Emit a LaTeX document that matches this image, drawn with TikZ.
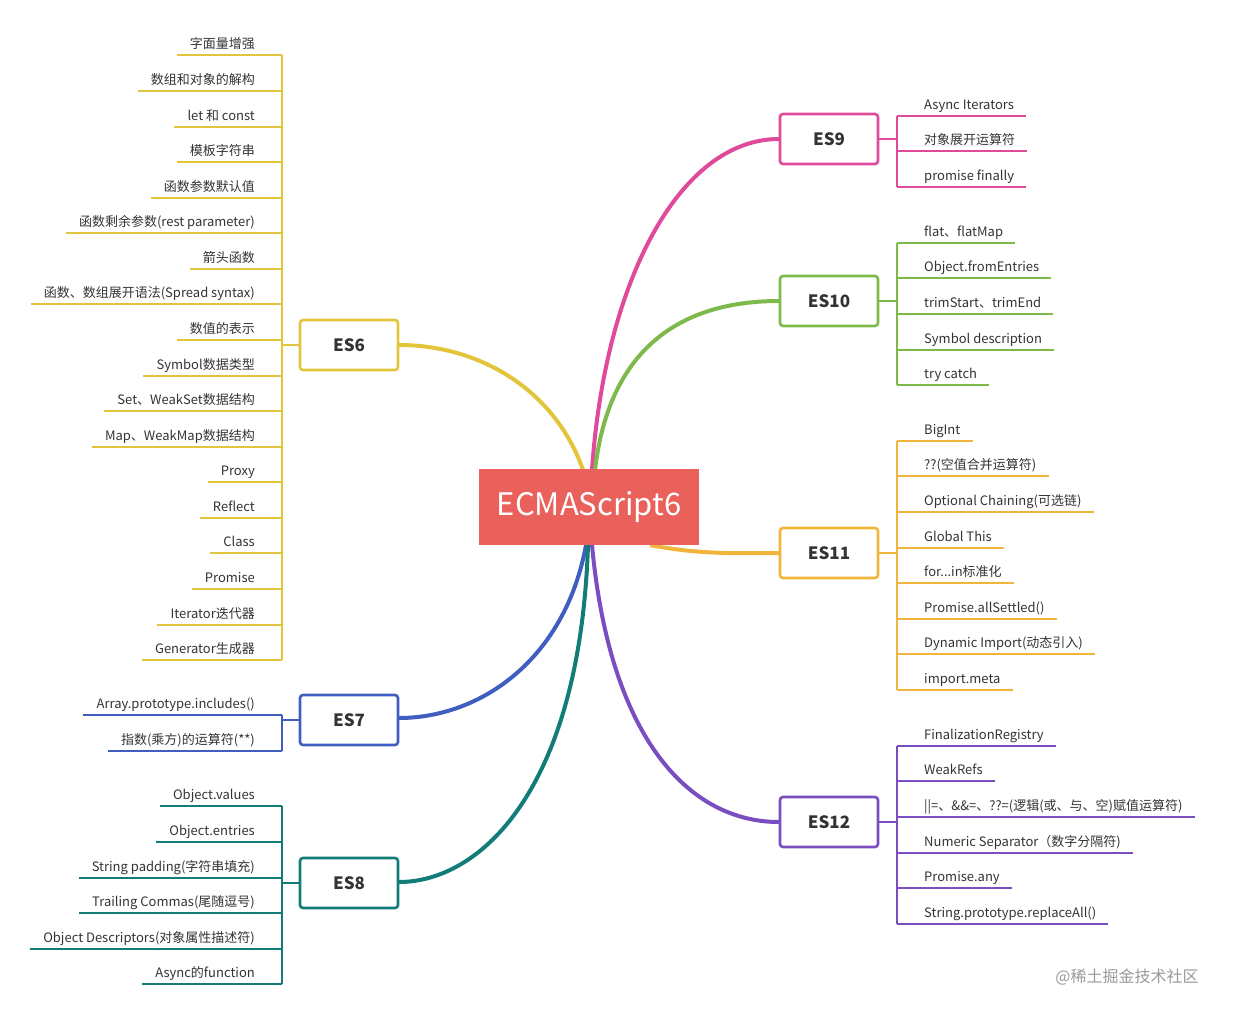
\documentclass[tikz,border=0pt]{standalone}
\usepackage{fontspec}
\setmainfont{Noto Sans CJK SC}
\definecolor{cA}{HTML}{E2C53A}
\definecolor{cB}{HTML}{3F5EBF}
\definecolor{cC}{HTML}{127C79}
\definecolor{cD}{HTML}{E04A9B}
\definecolor{cE}{HTML}{7EB94C}
\definecolor{cF}{HTML}{F2B53B}
\definecolor{cG}{HTML}{7A4DC0}
\definecolor{cR}{HTML}{E9615A}
\begin{document}
\begin{tikzpicture}[x=1pt,y=-1pt,
  leaf/.style={inner xsep=0pt,inner ysep=3pt,text height=10pt,text depth=3pt,font=\fontsize{13}{15}\selectfont,text=black!80},
  es/.style={draw=#1,line width=2.6pt,rounded corners=3pt,fill=white,minimum width=98pt,minimum height=50pt,font=\fontsize{17}{20}\selectfont\bfseries,text=black!80},
  br/.style={draw=#1,line width=1.6pt},
  sp/.style={draw=#1,line width=4pt}]
\useasboundingbox (0,0) rectangle (1233,1014);
% spines
\draw[sp=cA] (583,470) .. controls (555,390) and (480,345) .. (399,345);
\draw[sp=cB] (586,545) .. controls (565,660) and (480,718) .. (399,718);
\draw[sp=cC] (588,545) .. controls (580,790) and (480,882) .. (399,882);
\draw[sp=cD] (592,470) .. controls (605,280) and (680,139) .. (779,139);
\draw[sp=cE] (595,470) .. controls (610,340) and (690,301) .. (779,301);
\draw[sp=cF] (650,545) .. controls (700,555) and (740,553) .. (779,553);
\draw[sp=cG] (592,545) .. controls (610,740) and (690,822) .. (779,822);
\node[fill=cR,text=white,minimum width=220pt,minimum height=76pt,inner sep=0pt,font=\fontsize{31}{34}\selectfont] (center) at (589,507) {ECMAScript6};
% boxes
\node[es=cA] (es6) at (349,345) {ES6};
\node[es=cB] (es7) at (349,720) {ES7};
\node[es=cC] (es8) at (349,883) {ES8};
\node[es=cD] (es9) at (829,139) {ES9};
\node[es=cE] (es10) at (829,301) {ES10};
\node[es=cF] (es11) at (829,553) {ES11};
\node[es=cG] (es12) at (829,822) {ES12};
% left groups
\foreach \t/\y [count=\i] in {{字面量增强}/42,{数组和对象的解构}/78,{let 和 const}/114,{模板字符串}/149,{函数参数默认值}/185,{函数剩余参数(rest parameter)}/220,{箭头函数}/256,{函数、数组展开语法(Spread syntax)}/291,{数值的表示}/327,{Symbol数据类型}/363,{Set、WeakSet数据结构}/398,{Map、WeakMap数据结构}/434,{Proxy}/469,{Reflect}/505,{Class}/540,{Promise}/576,{Iterator迭代器}/612,{Generator生成器}/647}{
  \node[leaf,anchor=south east] (a\i) at (255,\y+13) {\t};
  \draw[br=cA] ([xshift=-13pt]a\i.south west) -- ([xshift=27pt]a\i.south east);}
\draw[br=cA] ([xshift=27pt]a1.south east) -- ([xshift=27pt]a18.south east);
\draw[br=cA] (es6.west) -- (282,345);
\foreach \t/\y [count=\i] in {{Array.prototype.includes()}/702,{指数(乘方)的运算符(**)}/738}{
  \node[leaf,anchor=south east] (b\i) at (255,\y+13) {\t};
  \draw[br=cB] ([xshift=-13pt]b\i.south west) -- ([xshift=27pt]b\i.south east);}
\draw[br=cB] ([xshift=27pt]b1.south east) -- ([xshift=27pt]b2.south east);
\draw[br=cB] (es7.west) -- (282,720);
\foreach \t/\y [count=\i] in {{Object.values}/793,{Object.entries}/829,{String padding(字符串填充)}/865,{Trailing Commas(尾随逗号)}/900,{Object Descriptors(对象属性描述符)}/936,{Async的function}/971}{
  \node[leaf,anchor=south east] (c\i) at (255,\y+13) {\t};
  \draw[br=cC] ([xshift=-13pt]c\i.south west) -- ([xshift=27pt]c\i.south east);}
\draw[br=cC] ([xshift=27pt]c1.south east) -- ([xshift=27pt]c6.south east);
\draw[br=cC] (es8.west) -- (282,883);
% right groups
\foreach \t/\y [count=\i] in {{Async Iterators}/103,{对象展开运算符}/138,{promise finally}/174}{
  \node[leaf,anchor=south west] (d\i) at (924,\y+13) {\t};
  \draw[br=cD] ([xshift=-27pt]d\i.south west) -- ([xshift=12pt]d\i.south east);}
\draw[br=cD] ([xshift=-27pt]d1.south west) -- ([xshift=-27pt]d3.south west);
\draw[br=cD] (es9.east) -- (897,139);
\foreach \t/\y [count=\i] in {{flat、flatMap}/230,{Object.fromEntries}/265,{trimStart、trimEnd}/301,{Symbol description}/337,{try catch}/372}{
  \node[leaf,anchor=south west] (e\i) at (924,\y+13) {\t};
  \draw[br=cE] ([xshift=-27pt]e\i.south west) -- ([xshift=12pt]e\i.south east);}
\draw[br=cE] ([xshift=-27pt]e1.south west) -- ([xshift=-27pt]e5.south west);
\draw[br=cE] (es10.east) -- (897,301);
\foreach \t/\y [count=\i] in {{BigInt}/428,{??(空值合并运算符)}/463,{Optional Chaining(可选链)}/499,{Global This}/535,{for...in标准化}/570,{Promise.allSettled()}/606,{Dynamic Import(动态引入)}/641,{import.meta}/677}{
  \node[leaf,anchor=south west] (f\i) at (924,\y+13) {\t};
  \draw[br=cF] ([xshift=-27pt]f\i.south west) -- ([xshift=12pt]f\i.south east);}
\draw[br=cF] ([xshift=-27pt]f1.south west) -- ([xshift=-27pt]f8.south west);
\draw[br=cF] (es11.east) -- (897,553);
\foreach \t/\y [count=\i] in {{FinalizationRegistry}/733,{WeakRefs}/768,{||=、\&\&=、??=(逻辑(或、与、空)赋值运算符)}/804,{Numeric Separator（数字分隔符)}/840,{Promise.any}/875,{String.prototype.replaceAll()}/911}{
  \node[leaf,anchor=south west] (g\i) at (924,\y+13) {\t};
  \draw[br=cG] ([xshift=-27pt]g\i.south west) -- ([xshift=12pt]g\i.south east);}
\draw[br=cG] ([xshift=-27pt]g1.south west) -- ([xshift=-27pt]g6.south west);
\draw[br=cG] (es12.east) -- (897,822);
\node[text=black!40,font=\fontsize{16}{18}\selectfont] (wm) at (1127,977) {@稀土掘金技术社区};
\end{tikzpicture}
\end{document}
